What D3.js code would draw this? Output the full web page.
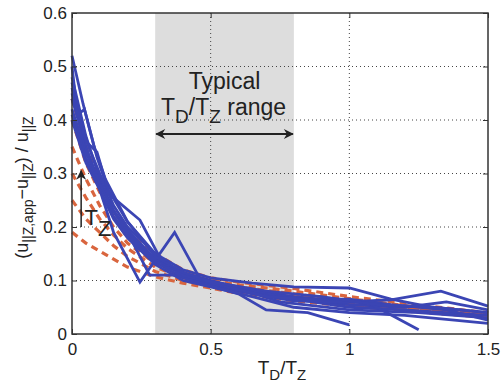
<!DOCTYPE html>
<html>
<head>
<meta charset="utf-8">
<script src="https://cdn.jsdelivr.net/npm/d3@7"></script>
<style>
  body { margin: 0; background: #fff; }
  svg text { font-family: "Liberation Sans", Arial, sans-serif; fill: #222; }
</style>
</head>
<body>
<div id="adiv"></div>
<script>
// tick values
var xTicks = [0, 0.5, 1, 1.5];
var yTicks = [0, 0.1, 0.2, 0.3, 0.4, 0.5, 0.6];
var typicalRange = [0.3, 0.8];

// red dashed curves share one x grid
var redX = [0, 0.05, 0.1, 0.15, 0.2, 0.3, 0.4, 0.5, 0.6, 0.8, 1.0, 1.25, 1.5];
var redY = [
  [0.44, 0.35, 0.29, 0.23, 0.19, 0.15, 0.12, 0.105, 0.097, 0.085, 0.07, 0.054, 0.04],
  [0.40, 0.32, 0.265, 0.22, 0.18, 0.14, 0.115, 0.1, 0.092, 0.08, 0.066, 0.05, 0.038],
  [0.35, 0.29, 0.24, 0.2, 0.17, 0.132, 0.11, 0.097, 0.088, 0.075, 0.062, 0.048, 0.037],
  [0.30, 0.255, 0.215, 0.185, 0.16, 0.125, 0.105, 0.094, 0.084, 0.07, 0.058, 0.045, 0.035],
  [0.25, 0.215, 0.19, 0.165, 0.145, 0.117, 0.1, 0.09, 0.08, 0.066, 0.055, 0.043, 0.033],
  [0.19, 0.17, 0.155, 0.14, 0.125, 0.107, 0.095, 0.086, 0.076, 0.062, 0.052, 0.041, 0.031]
];

// blue solid curves, [x, y] points
var blueLines = [
  [[0,0.52],[0.04,0.43],[0.08,0.35],[0.12,0.29],[0.2,0.21],[0.3,0.15],[0.4,0.12],[0.5,0.105],[0.65,0.095],[0.8,0.088],[1.0,0.086],[1.15,0.065],[1.3,0.05],[1.5,0.04]],
  [[0,0.50],[0.02,0.41],[0.045,0.42],[0.09,0.33],[0.137,0.26],[0.245,0.213],[0.33,0.13],[0.45,0.105],[0.6,0.085],[0.8,0.07],[1.0,0.06],[1.15,0.064],[1.33,0.08],[1.5,0.052]],
  [[0,0.48],[0.05,0.37],[0.1,0.29],[0.15,0.23],[0.2,0.19],[0.3,0.14],[0.4,0.115],[0.5,0.1],[0.7,0.075],[0.9,0.06],[1.0,0.055],[1.2,0.05],[1.35,0.06],[1.5,0.045]],
  [[0,0.46],[0.05,0.35],[0.1,0.27],[0.15,0.19],[0.245,0.097],[0.37,0.19],[0.46,0.105],[0.6,0.085],[0.75,0.06],[1.0,0.045],[1.25,0.04],[1.5,0.03]],
  [[0,0.44],[0.05,0.35],[0.1,0.28],[0.15,0.23],[0.2,0.19],[0.28,0.11],[0.37,0.11],[0.45,0.1],[0.6,0.08],[0.8,0.065],[1.0,0.05],[1.2,0.045],[1.5,0.035]],
  [[0,0.42],[0.05,0.34],[0.1,0.28],[0.15,0.23],[0.2,0.195],[0.3,0.14],[0.4,0.11],[0.5,0.095],[0.65,0.075],[0.8,0.062],[0.95,0.06],[1.07,0.058],[1.25,0.008]],
  [[0,0.41],[0.05,0.33],[0.1,0.27],[0.15,0.22],[0.2,0.185],[0.3,0.135],[0.4,0.105],[0.5,0.09],[0.6,0.075],[0.7,0.045],[0.85,0.04],[1.0,0.017]],
  [[0,0.40],[0.05,0.32],[0.1,0.27],[0.15,0.215],[0.2,0.18],[0.3,0.13],[0.4,0.1],[0.5,0.088],[0.65,0.07],[0.8,0.05],[1.0,0.04],[1.2,0.035],[1.5,0.02]],
  [[0,0.47],[0.03,0.4],[0.06,0.35],[0.1,0.3],[0.15,0.24],[0.2,0.2],[0.3,0.15],[0.4,0.11],[0.55,0.09],[0.7,0.07],[0.85,0.065],[1.0,0.065],[1.15,0.055],[1.35,0.045],[1.5,0.026]],
  [[0,0.45],[0.05,0.36],[0.09,0.34],[0.13,0.27],[0.2,0.21],[0.3,0.145],[0.4,0.115],[0.5,0.098],[0.7,0.08],[0.9,0.07],[1.1,0.055],[1.3,0.05],[1.5,0.04]]
];

var margin = {top: 13, right: 13, bottom: 49, left: 72},
    width = 501 - margin.left - margin.right,
    height = 383 - margin.top - margin.bottom;

var svg = d3.select("#adiv").append("svg")
    .attr("width", 501).attr("height", 383);

var defs = svg.append("defs");
defs.append("marker").attr("id", "head")
    .attr("viewBox", "0 0 10 10").attr("refX", 9).attr("refY", 5)
    .attr("markerWidth", 14).attr("markerHeight", 10)
    .attr("markerUnits", "userSpaceOnUse")
    .attr("orient", "auto-start-reverse")
  .append("path").attr("d", "M0,0 L10,5 L0,10 L3,5 Z").attr("fill", "#222");

var g = svg.append("g")
    .attr("transform", "translate(" + margin.left + "," + margin.top + ")");

var x = d3.scaleLinear().domain([0, 1.5]).range([0, width]);
var y = d3.scaleLinear().domain([0, 0.6]).range([height, 0]);

// shaded typical range
g.append("rect")
  .attr("x", x(typicalRange[0])).attr("y", 0)
  .attr("width", x(typicalRange[1]) - x(typicalRange[0]))
  .attr("height", height)
  .attr("fill", "#dddddd");

// dotted grid
g.append("g").selectAll("line").data(yTicks.filter(d => d > 0 && d < 0.6)).join("line")
  .attr("x1", 0).attr("x2", width)
  .attr("y1", d => y(d)).attr("y2", d => y(d))
  .attr("stroke", "#444").attr("stroke-width", 1).attr("stroke-dasharray", "1,3");
g.append("g").selectAll("line").data(xTicks.filter(d => d > 0 && d < 1.5)).join("line")
  .attr("y1", 0).attr("y2", height)
  .attr("x1", d => x(d)).attr("x2", d => x(d))
  .attr("stroke", "#444").attr("stroke-width", 1).attr("stroke-dasharray", "1,3");

var line = d3.line().x(d => x(d[0])).y(d => y(d[1]));

// red dashed curves (under the blue ones)
g.append("g").selectAll("path").data(redY).join("path")
  .attr("d", ys => line(ys.map((v, i) => [redX[i], v])))
  .attr("fill", "none").attr("stroke", "#d9653e")
  .attr("stroke-width", 3.2).attr("stroke-dasharray", "7,5");

// blue curves
g.append("g").selectAll("path").data(blueLines).join("path")
  .attr("d", line)
  .attr("fill", "none").attr("stroke", "#3b45b4")
  .attr("stroke-width", 2.8).attr("stroke-linejoin", "miter");

// axes with inward ticks, MATLAB style
var fmt = d => String(d);
var xAx = g.append("g").attr("transform", "translate(0," + height + ")")
  .call(d3.axisBottom(x).tickValues(xTicks).tickFormat(fmt).tickSizeInner(-5).tickSizeOuter(0).tickPadding(9));
var yAx = g.append("g")
  .call(d3.axisLeft(y).tickValues(yTicks).tickFormat(fmt).tickSizeInner(-5).tickSizeOuter(0).tickPadding(5));
g.append("g").attr("transform", "translate(" + width + ",0)")
  .call(d3.axisRight(y).tickValues(yTicks).tickFormat("").tickSizeInner(-5).tickSizeOuter(0));
g.append("g")
  .call(d3.axisTop(x).tickValues(xTicks).tickFormat("").tickSizeInner(-5).tickSizeOuter(0));
g.selectAll(".domain").remove();
g.selectAll(".tick line").attr("stroke", "#333");
[xAx, yAx].forEach(a => a.selectAll("text").attr("font-size", 17).attr("fill", "#222")
  .style("font-family", "Liberation Sans, Arial, sans-serif"));

// frame
g.append("rect").attr("width", width).attr("height", height)
  .attr("fill", "none").attr("stroke", "#333").attr("stroke-width", 1.5);

// annotation: typical range
g.append("text").attr("x", x(0.55)).attr("y", 89 - margin.top)
  .attr("text-anchor", "middle").attr("font-size", 23).text("Typical");
var t2 = g.append("text").attr("x", x(0.55) - 1).attr("y", 115 - margin.top)
  .attr("text-anchor", "middle").attr("font-size", 23);
t2.append("tspan").text("T");
t2.append("tspan").attr("dy", 8).attr("font-size", 19).text("D");
t2.append("tspan").attr("dy", -8).text("/T");
t2.append("tspan").attr("dy", 8).attr("font-size", 19).text("Z");
t2.append("tspan").attr("dy", -8).text(" range");

g.append("line")
  .attr("x1", x(typicalRange[0]) + 1).attr("x2", x(typicalRange[1]) - 1)
  .attr("y1", 134 - margin.top).attr("y2", 134 - margin.top)
  .attr("stroke", "#222").attr("stroke-width", 1.8)
  .attr("marker-start", "url(#head)").attr("marker-end", "url(#head)");

// annotation: T_Z arrow
g.append("line")
  .attr("x1", x(0.033)).attr("x2", x(0.033))
  .attr("y1", y(0.2)).attr("y2", y(0.305))
  .attr("stroke", "#222").attr("stroke-width", 1.5)
  .attr("marker-end", "url(#head)");
var tz = g.append("text").attr("x", x(0.045)).attr("y", 225 - margin.top).attr("font-size", 22);
tz.append("tspan").text("T");
tz.append("tspan").attr("dy", 11).text("Z");

// axis labels
var xl = svg.append("text").attr("x", 282).attr("y", 374)
  .attr("text-anchor", "middle").attr("font-size", 19);
xl.append("tspan").text("T");
xl.append("tspan").attr("dy", 6).attr("font-size", 15).text("D");
xl.append("tspan").attr("dy", -6).text("/T");
xl.append("tspan").attr("dy", 6).attr("font-size", 15).text("Z");

var yl = svg.append("text")
  .attr("transform", "translate(28," + (margin.top + height / 2 + 14) + ") rotate(-90)")
  .attr("text-anchor", "middle").attr("font-size", 18);
yl.append("tspan").text("(u");
yl.append("tspan").attr("dy", 5).attr("font-size", 14).text("||Z,app");
yl.append("tspan").attr("dy", -5).text("\u2212u");
yl.append("tspan").attr("dy", 5).attr("font-size", 14).text("||Z");
yl.append("tspan").attr("dy", -5).text(") / u");
yl.append("tspan").attr("dy", 5).attr("font-size", 14).text("||Z");
</script>
</body>
</html>
